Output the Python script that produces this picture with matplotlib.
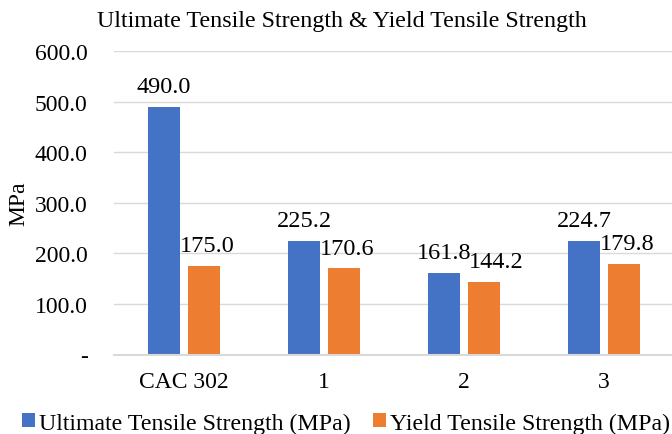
import matplotlib
matplotlib.use("Agg")
import matplotlib.pyplot as plt
import numpy as np

categories = ["CAC 302", "1", "2", "3"]
ultimate = [490.0, 225.2, 161.8, 224.7]
yield_strength = [175.0, 170.6, 144.2, 179.8]
y_ticks = [0, 100, 200, 300, 400, 500, 600]
y_tick_labels = ["-", "100.0", "200.0", "300.0", "400.0", "500.0", "600.0"]

# horizontal nudges (points) for data labels that would otherwise collide
ult_dx = [0, 0, 0, 0]
yld_dx = [2, 2, 8.5, 2]

plt.rcParams["font.family"] = ["Liberation Serif", "DejaVu Serif"]
FS = 17
BLUE = "#4472C4"
ORANGE = "#ED7D31"
GRID = "#D9D9D9"

W, H = 672, 435
fig = plt.figure(figsize=(W / 100, H / 100), dpi=100)
left, right = 114, 674
top, bottom = 52, 355.5
ax = fig.add_axes([left / W, (H - bottom) / H, (right - left) / W, (bottom - top) / H])

x = np.arange(len(categories))
bw = 32 / 140
off = 20 / 140
b1 = ax.bar(x - off, ultimate, bw, color=BLUE, label="Ultimate Tensile Strength (MPa)", zorder=3)
b2 = ax.bar(x + off, yield_strength, bw, color=ORANGE, label="Yield Tensile Strength (MPa)", zorder=3)

for rect, v, dx in zip(b1, ultimate, ult_dx):
    ax.annotate(f"{v:.1f}", (rect.get_x() + rect.get_width() / 2, v),
                xytext=(dx, 10.5), textcoords="offset points",
                ha="center", va="baseline", fontsize=17.5, color="#000000")
for rect, v, dx in zip(b2, yield_strength, yld_dx):
    ax.annotate(f"{v:.1f}", (rect.get_x() + rect.get_width() / 2, v),
                xytext=(dx, 10.5), textcoords="offset points",
                ha="center", va="baseline", fontsize=17.5, color="#000000")

ax.set_xlim(-0.5, len(categories) - 0.5)
ax.set_ylim(0, 600)
ax.set_yticks(y_ticks)
ax.set_yticklabels(y_tick_labels, fontsize=FS)
ax.set_xticks(x)
ax.set_xticklabels(categories, fontsize=FS)
ax.tick_params(axis="y", length=0, pad=19)
ax.tick_params(axis="x", length=0, pad=12)

ax.grid(axis="y", color=GRID, linewidth=1.0, zorder=0)
for s in ["top", "right", "left"]:
    ax.spines[s].set_visible(False)
ax.spines["bottom"].set_color(GRID)
ax.spines["bottom"].set_linewidth(1.5)
ax.spines["bottom"].set_zorder(4)

fig.text(18.5 / W, 1 - 204 / H, "MPa", rotation=90, ha="center", va="center", fontsize=FS)

fig.text(341.5 / W, 1 - 21.5 / H, "Ultimate Tensile Strength & Yield Tensile Strength",
         ha="center", va="center", fontsize=17.3)

fig.legend(handles=[b1, b2], loc="center", bbox_to_anchor=(346 / W, 1 - 424 / H),
           ncol=2, frameon=False, fontsize=17.2, handlelength=0.55, handleheight=0.55,
           handletextpad=0.2, columnspacing=0.9, borderaxespad=0, borderpad=0)

fig.savefig("out.png", dpi=100)
